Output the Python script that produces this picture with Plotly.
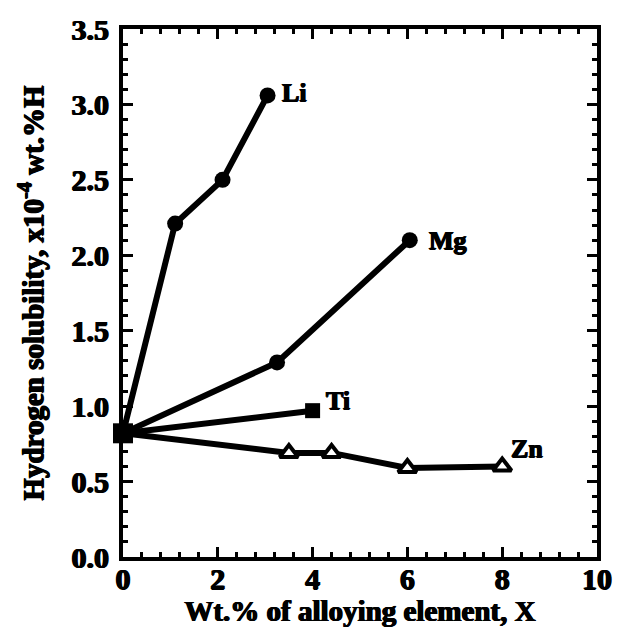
import plotly.graph_objects as go

# Hydrogen solubility in aluminium vs. alloying addition (wt.%)
li_x = [0, 1.1, 2.1, 3.05]
li_y = [0.82, 2.21, 2.5, 3.06]

mg_x = [0, 3.25, 6.05]
mg_y = [0.82, 1.29, 2.1]

ti_x = [0, 4.0]
ti_y = [0.82, 0.97]

zn_x = [0, 3.5, 4.4, 6.0, 8.0]
zn_y = [0.82, 0.69, 0.69, 0.59, 0.6]

base_x = [0]
base_y = [0.82]

labels = ["Li", "Mg", "Ti", "Zn"]
label_x = [3.32, 6.42, 4.25, 8.15]
label_y = [3.08, 2.1, 1.04, 0.72]

FONT = "Liberation Serif"
INK = "black"
HEAVY = "0.7px 0 0 black, -0.7px 0 0 black, 0 0.5px 0 black"

fig = go.Figure()

fig.add_trace(go.Scatter(x=li_x, y=li_y, mode="lines+markers",
                         line=dict(color=INK, width=6),
                         marker=dict(symbol="circle", size=16, color=INK)))
fig.add_trace(go.Scatter(x=mg_x, y=mg_y, mode="lines+markers",
                         line=dict(color=INK, width=6),
                         marker=dict(symbol="circle", size=16, color=INK)))
fig.add_trace(go.Scatter(x=ti_x, y=ti_y, mode="lines+markers",
                         line=dict(color=INK, width=6),
                         marker=dict(symbol="square", size=15, color=INK)))
fig.add_trace(go.Scatter(x=zn_x, y=zn_y, mode="lines",
                         line=dict(color=INK, width=6)))
fig.add_trace(go.Scatter(x=zn_x[1:], y=zn_y[1:], mode="markers",
                         marker=dict(symbol="triangle-up", size=16, color="white",
                                     line=dict(color=INK, width=4))))
fig.add_trace(go.Scatter(x=base_x, y=base_y, mode="markers",
                         marker=dict(symbol="square", size=20, color=INK),
                         cliponaxis=False))

for name, lx, ly in zip(labels, label_x, label_y):
    fig.add_annotation(x=lx, y=ly, text=name, showarrow=False, xanchor="left",
                       font=dict(family=FONT, size=26, color=INK, weight="bold",
                                 shadow=HEAVY))

axis_common = dict(
    showline=True, linecolor=INK, linewidth=4, mirror="ticks",
    ticks="inside", ticklen=10, tickwidth=3, tickcolor=INK,
    showgrid=False, zeroline=False,
    tickfont=dict(family=FONT, size=30, color=INK, weight="bold", shadow=HEAVY),
    title_font=dict(family=FONT, size=29, color=INK, weight="bold", shadow=HEAVY),
)

fig.update_xaxes(range=[0, 10], tick0=0, dtick=2,
                 minor=dict(ticks="inside", ticklen=5, tickwidth=3, tickcolor=INK, dtick=0.4),
                 title_text="Wt.% of alloying element, X", title_standoff=0,
                 ticklabelstandoff=-8,
                 **axis_common)
fig.update_yaxes(range=[0, 3.5], tick0=0, dtick=0.5, tickformat=".1f",
                 minor=dict(ticks="inside", ticklen=5, tickwidth=3, tickcolor=INK, dtick=0.1),
                 title_text="Hydrogen solubility, x10<sup>-4</sup> wt.%H", title_standoff=20,
                 ticklabelstandoff=4,
                 **axis_common)

fig.update_layout(
    width=624, height=636,
    margin=dict(l=123, r=21, t=20, b=79),
    paper_bgcolor="white", plot_bgcolor="white",
    showlegend=False,
)

fig.write_html("out.html")
